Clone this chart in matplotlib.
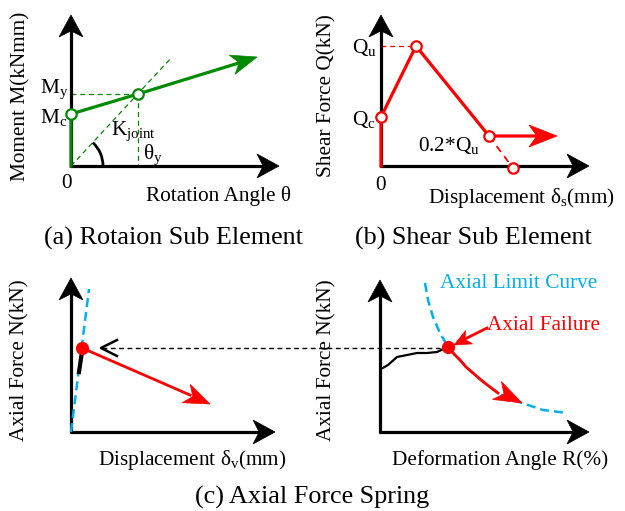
import numpy as np
import matplotlib
matplotlib.use("Agg")
import matplotlib.pyplot as plt
from matplotlib.patches import Polygon, Arc

plt.rcParams["font.family"] = ["Liberation Serif", "DejaVu Serif"]
plt.rcParams["mathtext.fontset"] = "custom"
plt.rcParams["mathtext.rm"] = "Liberation Serif"
plt.rcParams["mathtext.it"] = "Liberation Serif:italic"

GREEN = "#008a00"
RED = "#ff0000"
BLUE = "#00b0f0"
FS = 15.3      # axis / annotation text
FS_CAP = 18.8  # panel captions

# ---- schematic points (picture pixels) ----
# (a) rotation sub element
a_origin = (71, 166)
a_curve_x = [71, 71, 138, 242]
a_curve_y = [166, 114, 94, 62]
a_tip = (257, 57)
a_knee = (138, 94)
a_kline_x = [71, 172]
a_kline_y = [166, 57]

# (b) shear sub element
b_origin = (381, 166)
b_curve_x = [381, 381, 416, 489, 540]
b_curve_y = [166, 117, 46, 136, 136]
b_tip = (557, 136)
b_drop_x = [489, 513]
b_drop_y = [136, 168]

# (c) axial spring, left
c1_origin = (71, 432)
c1_limit_x = [71, 89]
c1_limit_y = [432, 289]
c1_black_x = [79, 82]
c1_black_y = [372, 352]
c1_dot = (82, 348)
c1_tip = (210, 404)

# (c) axial spring, right
c2_origin = (380, 432)
c2_black_x = [381, 388, 397, 407, 417, 427, 437, 448]
c2_black_y = [369, 365, 357, 355, 353, 353, 352, 347]
c2_limit_x = [425, 428, 433, 440, 448, 454, 460, 466, 473, 481, 490, 498, 507, 522, 543, 567]
c2_limit_y = [283, 300, 317, 333, 347, 354, 360, 367, 373, 380, 387, 393, 398, 403, 410, 413]
c2_dot = (448, 347)


def head(ax, tip, tail, length, width, color):
    tip = np.array(tip, float)
    d = tip - np.array(tail, float)
    d /= np.hypot(*d)
    n = np.array([-d[1], d[0]])
    base = tip - d * length
    notch = tip - d * length * 0.72
    pts = [tip, base + n * width / 2, notch, base - n * width / 2]
    ax.add_patch(Polygon(pts, closed=True, fc=color, ec=color, lw=0.5, zorder=6))


def axes_frame(ax, origin, ytop, xright):
    ox, oy = origin
    ax.plot([ox, ox], [oy + 1, ytop + 14], color="k", lw=2.3, solid_capstyle="butt", zorder=3)
    ax.plot([ox - 1, xright - 14], [oy, oy], color="k", lw=2.3, solid_capstyle="butt", zorder=3)
    head(ax, (ox, ytop), (ox, oy), 22, 24, "k")
    head(ax, (xright, oy), (ox, oy), 22, 24, "k")


fig = plt.figure(figsize=(6.25, 5.11), dpi=100)
ax = fig.add_axes([0, 0, 1, 1])
ax.set_xlim(0, 625)
ax.set_ylim(511, 0)
ax.axis("off")

open_mk = dict(marker="o", ms=7.5, mfc="white", mew=1.6, ls="none", zorder=7)
dash_thin = (0, (4, 3))
dash_blue = (0, (3.6, 2))

# ---------- (a) ----------
axes_frame(ax, a_origin, 15, 279)
ax.plot(a_kline_x, a_kline_y, color=GREEN, lw=0.9, ls=dash_thin)
ax.plot([71, a_knee[0]], [a_knee[1]] * 2, color=GREEN, lw=0.9, ls=dash_thin)
ax.plot([a_knee[0]] * 2, [a_knee[1], 166], color=GREEN, lw=0.9, ls=dash_thin)
ax.plot(a_curve_x, a_curve_y, color=GREEN, lw=2.3, zorder=4)
head(ax, a_tip, (a_curve_x[2], a_curve_y[2]), 26, 20, GREEN)
ax.plot([a_curve_x[1], a_knee[0]], [a_curve_y[1], a_knee[1]], color=GREEN, mec=GREEN, **open_mk)
ax.add_patch(Arc(a_origin, 64, 64, theta1=-47, theta2=0, color="k", lw=2, zorder=4))
ax.text(40, 89, r"M$_\mathregular{y}$", fontsize=FS, va="center")
ax.text(40, 117, r"M$_\mathregular{c}$", fontsize=FS, va="center")
ax.text(111, 131, r"K$_\mathregular{joint}$", fontsize=FS, va="center")
ax.text(143, 155, r"θ$_\mathregular{y}$", fontsize=FS, va="center")
ax.text(67, 184, "0", fontsize=FS, ha="center", va="center")
ax.text(146, 196, "Rotation Angle θ", fontsize=FS, va="center")
ax.text(21, 96, "Moment M(kNmm)", fontsize=FS, rotation=90, ha="center", va="center")
ax.text(173, 238, "(a) Rotaion Sub Element", fontsize=FS_CAP, ha="center", va="center")

# ---------- (b) ----------
axes_frame(ax, b_origin, 15, 589)
ax.plot([381, b_curve_x[2]], [b_curve_y[2]] * 2, color=RED, lw=0.9, ls=dash_thin)
ax.plot(b_drop_x, b_drop_y, color=RED, lw=1.3, ls=dash_thin)
ax.plot(b_curve_x, b_curve_y, color=RED, lw=2.3, zorder=4)
head(ax, b_tip, (489, 136), 28, 22, RED)
ax.plot(b_curve_x[1:4] + [b_drop_x[1]], b_curve_y[1:4] + [b_drop_y[1]],
        color=RED, mec=RED, **open_mk)
ax.text(352, 48, r"Q$_\mathregular{u}$", fontsize=FS, va="center")
ax.text(352, 119, r"Q$_\mathregular{c}$", fontsize=FS, va="center")
ax.text(418, 146, r"0.2*Q$_\mathregular{u}$", fontsize=FS, va="center")
ax.text(381, 186, "0", fontsize=FS, ha="center", va="center")
ax.text(428, 198, r"Displacement δ$_\mathregular{s}$(mm)", fontsize=FS, va="center")
ax.text(327, 96, "Shear Force Q(kN)", fontsize=FS, rotation=90, ha="center", va="center")
ax.text(473, 238, "(b) Shear Sub Element", fontsize=FS_CAP, ha="center", va="center")

# ---------- (c) left ----------
axes_frame(ax, c1_origin, 278, 275)
ax.plot(c1_limit_x, c1_limit_y, color=BLUE, lw=1.8, ls=dash_blue, zorder=4)
ax.plot(c1_black_x, c1_black_y, color="k", lw=3, zorder=5)
ax.plot([c1_dot[0], c1_tip[0] - 20], [c1_dot[1], c1_tip[1] - 9], color=RED, lw=2, zorder=5)
head(ax, c1_tip, c1_dot, 26, 20, RED)
ax.plot(*c1_dot, marker="o", ms=8.5, color=RED, zorder=8)
ax.text(98, 460, r"Displacement δ$_\mathregular{v}$(mm)", fontsize=FS, va="center")
ax.text(20, 360, "Axial Force N(kN)", fontsize=FS, rotation=90, ha="center", va="center")

# dashed link between panels
ax.plot([102, c2_dot[0]], [348, 348], color="k", lw=1, ls=(0, (3.5, 2.5)), zorder=2)
ax.plot([117, 101, 117], [340, 348, 356], color="k", lw=1.8, zorder=3)

# ---------- (c) right ----------
axes_frame(ax, c2_origin, 280, 589)
ax.plot(c2_limit_x, c2_limit_y, color=BLUE, lw=1.8, ls=dash_blue, zorder=4)
ax.plot(c2_black_x, c2_black_y, color="k", lw=1.6, zorder=5)
ax.plot(c2_limit_x[4:12], c2_limit_y[4:12], color=RED, lw=2, zorder=5)
head(ax, (c2_limit_x[13], c2_limit_y[13]), (c2_limit_x[10], c2_limit_y[10]), 28, 20, RED)
ax.plot(*c2_dot, marker="o", ms=8.5, color=RED, zorder=8)
ax.plot([487, 465], [328, 339], color=RED, lw=2, zorder=5)
head(ax, (454, 345), (487, 328), 17, 15, RED)
ax.text(440, 283, "Axial Limit Curve", fontsize=FS, color=BLUE, va="center")
ax.text(487, 325, "Axial Failure", fontsize=FS, color=RED, va="center")
ax.text(392, 460, "Deformation Angle R(%)", fontsize=FS, va="center")
ax.text(327, 360, "Axial Force N(kN)", fontsize=FS, rotation=90, ha="center", va="center")

ax.text(312, 497, "(c) Axial Force Spring", fontsize=FS_CAP, ha="center", va="center")

fig.savefig("out.png", dpi=100)
